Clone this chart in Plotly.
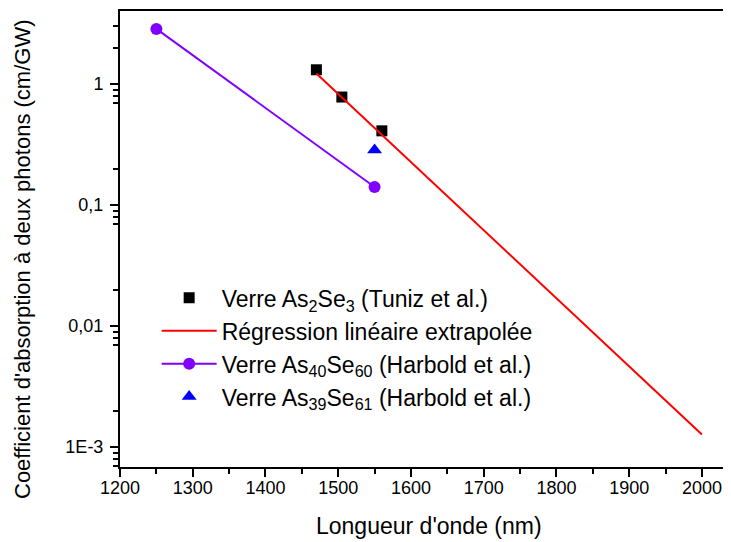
import plotly.graph_objects as go

# Data
tuniz_x = [1470, 1505, 1560]
tuniz_y = [1.31, 0.78, 0.41]

regr_x = [1470, 2000]
regr_y = [1.22, 0.00127]

harbold60_x = [1250, 1550]
harbold60_y = [2.85, 0.141]

harbold61_x = [1550]
harbold61_y = [0.285]

y_tickvals = [1, 0.1, 0.01, 0.001]
y_ticktext = ["1", "0,1", "0,01", "1E-3"]
x_tickvals = [1200, 1300, 1400, 1500, 1600, 1700, 1800, 1900, 2000]
x_minor = [1250, 1350, 1450, 1550, 1650, 1750, 1850, 1950]

minor_y = []
for d in [0.0001, 0.001, 0.01, 0.1, 1]:
    for m in [2, 7, 8, 9]:
        minor_y.append(m * d)
minor_y.append(3)

FONT = "Liberation Sans, Arial, sans-serif"

fig = go.Figure()
fig.add_trace(go.Scatter(
    x=tuniz_x, y=tuniz_y, mode="markers",
    marker=dict(symbol="square", size=11, color="black", line=dict(width=0)),
    name="Verre As<sub>2</sub>Se<sub>3</sub> (Tuniz et al.)", legendgroup="a"))
fig.add_trace(go.Scatter(
    x=regr_x, y=regr_y, mode="lines",
    line=dict(color="#ff0000", width=2),
    name="Régression linéaire extrapolée", legendgroup="b"))
fig.add_trace(go.Scatter(
    x=harbold60_x, y=harbold60_y, mode="lines+markers",
    line=dict(color="#8000ff", width=2),
    marker=dict(symbol="circle", size=12, color="#8000ff"),
    name="Verre As<sub>40</sub>Se<sub>60</sub> (Harbold et al.)", legendgroup="c"))
fig.add_trace(go.Scatter(
    x=harbold61_x, y=harbold61_y, mode="markers",
    marker=dict(symbol="triangle-up", size=13, color="#0000ff"),
    name="Verre As<sub>39</sub>Se<sub>61</sub> (Harbold et al.)", legendgroup="d"))

# the page body adds an 8px margin, so the figure is sized to fill the rest
fig.update_layout(
    width=723, height=534,
    margin=dict(l=112, r=0, t=3, b=75),
    paper_bgcolor="white", plot_bgcolor="white",
    font=dict(family=FONT, size=18, color="black"),
    showlegend=True,
    legend=dict(x=0.060, y=0.418, xanchor="left", yanchor="top",
                bgcolor="rgba(0,0,0,0)", font=dict(size=23, family=FONT),
                itemwidth=55, tracegroupgap=0),
    xaxis=dict(range=[1200, 2040], tickvals=x_tickvals, automargin=False,
               ticks="outside", ticklen=8, tickwidth=1.5, tickcolor="black",
               ticklabelstandoff=-5,
               showline=True, linecolor="black", linewidth=2, mirror=True,
               showgrid=False, zeroline=False,
               minor=dict(tickvals=x_minor, ticks="outside", ticklen=5,
                          tickwidth=1.5, tickcolor="black", showgrid=False),
               tickfont=dict(size=18)),
    yaxis=dict(type="log", range=[-3.165, 0.603], automargin=False,
               tickvals=y_tickvals, ticktext=y_ticktext,
               ticks="outside", ticklen=8, tickwidth=1.5, tickcolor="black",
               ticklabelstandoff=3,
               showline=True, linecolor="black", linewidth=2,
               showgrid=False, zeroline=False,
               minor=dict(tickvals=minor_y, ticks="outside", ticklen=5,
                          tickwidth=1.5, tickcolor="black", showgrid=False),
               tickfont=dict(size=18)),
)
fig.add_annotation(text="Longueur d'onde (nm)", xref="paper", yref="paper",
                   x=(429 - 120) / 611, y=(467 - 526) / 456,
                   xanchor="center", yanchor="middle",
                   showarrow=False, font=dict(size=23, family=FONT))
fig.add_annotation(text="Coefficient d'absorption à deux photons (cm/GW)",
                   xref="paper", yref="paper", textangle=-90,
                   x=(22 - 120) / 611, y=(467 - 260) / 456,
                   xanchor="center", yanchor="middle",
                   showarrow=False, font=dict(size=22, family=FONT))
fig.write_html("out.html")
